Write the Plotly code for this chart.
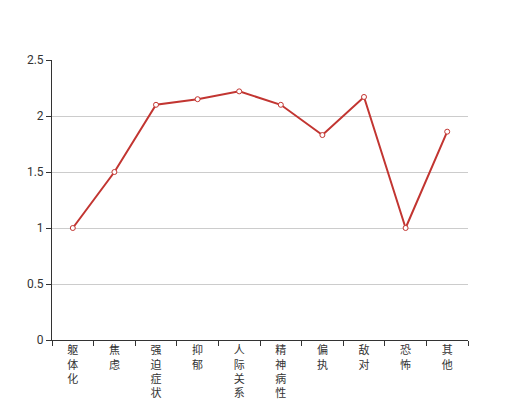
import plotly.graph_objects as go

categories = ["躯体化", "焦虑", "强迫症状", "抑郁", "人际关系敏感", "精神病性", "偏执", "敌对", "恐怖", "其他"]
scores = [1.0, 1.5, 2.1, 2.15, 2.22, 2.1, 1.83, 2.17, 1.0, 1.86]
y_ticks = [0, 0.5, 1, 1.5, 2, 2.5]
y_tick_labels = ["0", "0.5", "1", "1.5", "2", "2.5"]

# etiquetas verticales: un caracter por linea
vertical_labels = ["<br>".join(list(c)) for c in categories]

fig = go.Figure(go.Scatter(
    x=categories,
    y=scores,
    mode="lines+markers",
    line={"color": "#c23531", "width": 2},
    marker={"symbol": "circle", "size": 5, "color": "#ffffff",
            "line": {"color": "#c23531", "width": 1}},
    showlegend=False,
))

fig.update_xaxes(
    type="category",
    range=[-0.5, len(categories) - 0.5],
    tickmode="array",
    tickvals=categories,
    ticktext=vertical_labels,
    tickson="boundaries",
    ticks="outside",
    ticklen=5,
    tickcolor="#333333",
    showline=True,
    linecolor="#333333",
    linewidth=1,
    showgrid=False,
    tickfont={"size": 11, "color": "#333333"},
    automargin=False,
)
fig.update_yaxes(
    range=[0, 2.5],
    tickmode="array",
    tickvals=y_ticks,
    ticktext=y_tick_labels,
    ticks="outside",
    ticklen=5,
    tickcolor="#333333",
    showline=True,
    linecolor="#333333",
    linewidth=1,
    showgrid=True,
    gridcolor="#cccccc",
    gridwidth=1,
    zeroline=False,
    tickfont={"size": 12, "color": "#333333"},
    automargin=False,
)
fig.update_layout(
    width=520,
    height=400,
    margin={"l": 52, "r": 52, "t": 60, "b": 60},
    paper_bgcolor="#ffffff",
    plot_bgcolor="#ffffff",
    font={"family": "Roboto, Noto Sans CJK SC, sans-serif"},
)

# quitar el margen del body para que el grafico quede en (0, 0)
fig.write_html(
    "out.html",
    config={"displayModeBar": False},
    post_script="document.body.style.margin='0';document.body.style.overflow='hidden';",
)
